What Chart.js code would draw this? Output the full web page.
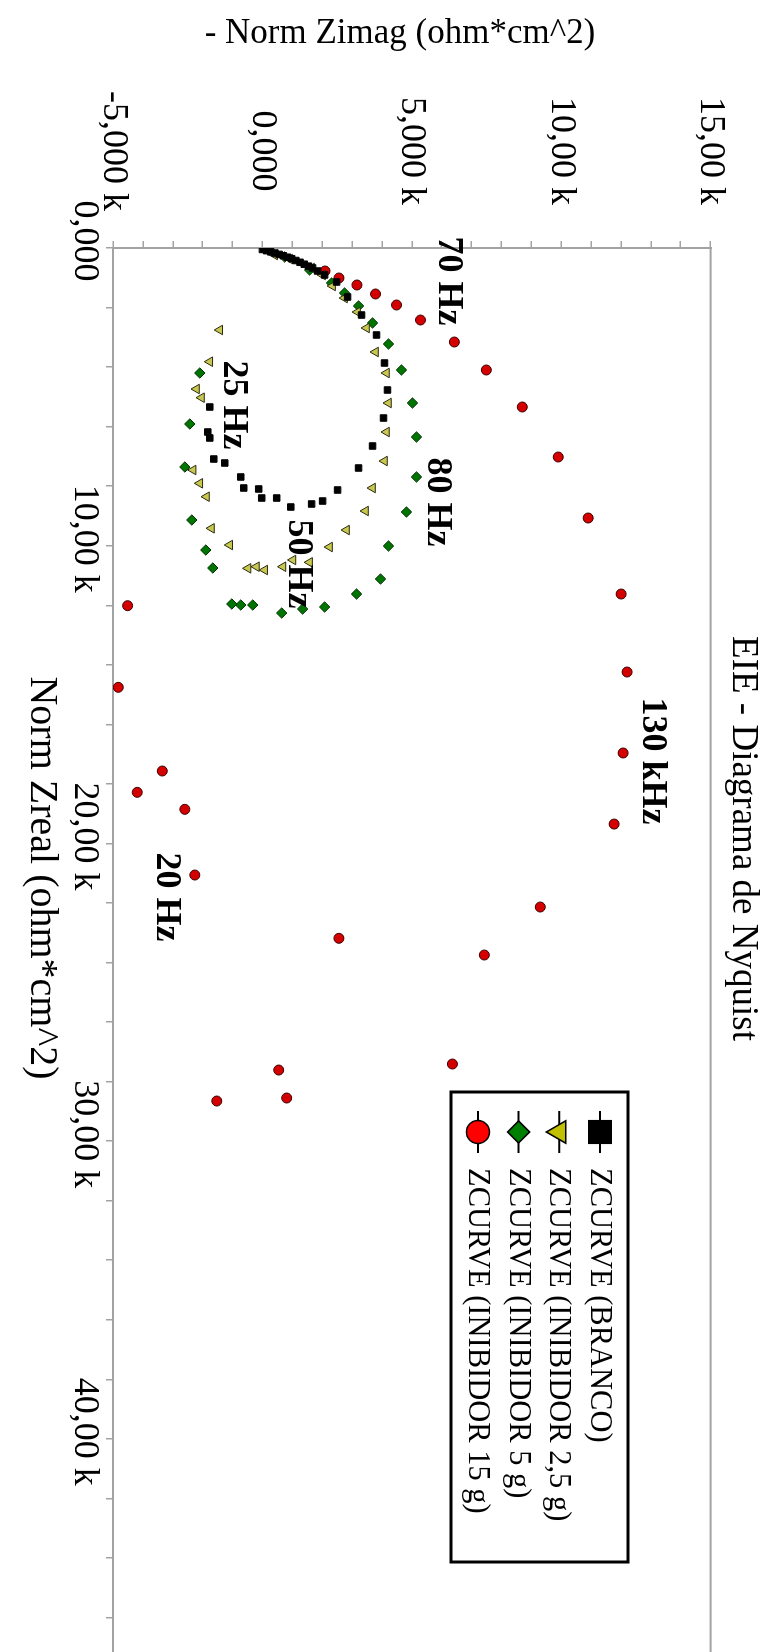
<!DOCTYPE html>
<html>
<head>
<meta charset="utf-8">
<title>EIE - Diagrama de Nyquist</title>
<script src="https://cdn.jsdelivr.net/npm/chart.js@4.4.0/dist/chart.umd.min.js"></script>
<style>
  html, body { margin: 0; padding: 0; background: #fff; width: 767px; height: 1652px; overflow: hidden; }
  /* the plot is laid out landscape and turned a quarter clockwise */
  #turn { position: absolute; left: 0; top: 0; width: 1700px; height: 767px;
          transform-origin: 0 0; transform: translateX(767px) rotate(90deg); }
</style>
</head>
<body>
<div id="turn"><canvas id="nyquist" width="1700" height="767"></canvas></div>
<script>
// Norm Zreal / -Norm Zimag, ohm*cm^2
const brancoZreal = [50, 90, 130, 170, 215, 260, 310, 360, 420, 480, 545, 610, 670, 773, 906, 1142, 1646, 2251, 2922, 3863, 4770, 5711, 6651, 7390, 8129, 8499, 8599, 8700, 8398, 8398, 8095, 8062, 7692, 7222, 7088, 6382, 6181, 5341];
const brancoZimag = [0, 140, 280, 420, 560, 700, 840, 980, 1120, 1260, 1400, 1540, 1680, 1847, 2081, 2483, 2850, 3318, 3819, 4086, 4186, 4053, 3686, 3218, 2516, 2015, 1647, 950, 478, -23, -124, -625, -725, -1260, -1627, -1761, -1828, -1761];

const inib25Zreal = [235, 369, 672, 907, 1276, 1680, 2150, 2687, 3493, 4199, 5207, 6181, 7155, 8062, 8834, 9473, 10044, 10558, 10480, 10705, 10816, 10705, 10760, 9977, 9416, 8354, 7904, 7457, 5028, 4737, 3819, 2754];
const inib25Zimag = [411, 912, 1647, 2015, 2349, 2750, 3184, 3485, 3786, 4153, 4220, 4153, 4086, 3686, 3452, 2816, 2248, 1580, 1023, 688, 77, -200, -481, -1093, -1704, -1871, -2095, -2318, -2038, -2205, -1761, -1427];

const inib5Zreal = [302, 739, 1176, 1512, 1948, 2519, 3225, 4098, 5207, 6349, 7692, 8868, 10010, 11119, 11623, 12059, 12127, 12261, 11992, 11992, 11958, 10749, 10145, 9137, 7356, 5912, 4199];
const inib5Zimag = [745, 1580, 2315, 2750, 3218, 3686, 4220, 4654, 5022, 5156, 5156, 4821, 4220, 3953, 3151, 2082, 1346, 645, -324, -725, -1025, -1660, -1894, -2362, -2596, -2429, -2095];

const inib15Zreal = [773, 1008, 1243, 1545, 1915, 2419, 3158, 4098, 5341, 7021, 9070, 11623, 14243, 16963, 19350, 22137, 23749, 27410, 23188, 27612, 28552, 28653, 21062, 18855, 17568, 18284, 14757, 12015];
const inib15Zimag = [2095, 2562, 3164, 3786, 4488, 5290, 6424, 7494, 8697, 9900, 10902, 12005, 12205, 12072, 11771, 9299, 7427, 6358, 2560, 545, 812, -1527, -2262, -2596, -3351, -4190, -4824, -4511];

const seriesNames = ['ZCURVE (BRANCO)', 'ZCURVE (INIBIDOR 2,5 g)', 'ZCURVE (INIBIDOR 5 g)', 'ZCURVE (INIBIDOR 15 g)'];

const zrealTickValues = [0, 10000, 20000, 30000, 40000];
const zrealTickLabels = ['0,000', '10,00 k', '20,00 k', '30,00 k', '40,00 k'];
const zimagTickValues = [-5000, 0, 5000, 10000, 15000];
const zimagTickLabels = ['-5,000 k', '0,000', '5,000 k', '10,00 k', '15,00 k'];

// frequency notes placed in data space
const noteText = ['70 Hz', '80 Hz', '25 Hz', '50 Hz', '130 kHz', '20 Hz'];
const noteZreal = [1108, 8532, 5274, 10615, 17230, 21800];
const noteZimag = [6224, 5857, -959, 1213, 13040, -3231];

const serif = "'Liberation Serif', 'Times New Roman', serif";
const frameGrey = '#a3a3a3';

function toPoints(re, im) {
    return re.map((x, i) => ({ x: x, y: im[i] }));
}

function tickText(values, labels) {
    return function (v) {
        const i = values.indexOf(v);
        return i >= 0 ? labels[i] : '';
    };
}

// grey box round the plot area (Chart.js only draws left + bottom)
const framePlugin = {
    id: 'frame',
    beforeDatasetsDraw(chart) {
        const { ctx, chartArea: a } = chart;
        ctx.save();
        ctx.strokeStyle = frameGrey;
        ctx.lineWidth = 2;
        ctx.strokeRect(a.left, a.top, a.right - a.left, a.bottom - a.top);
        ctx.restore();
    }
};

// axis captions: set by hand because they are not centred on the axes
const axisCaptions = [
    { text: 'Norm Zreal (ohm*cm^2)', x: 878, y: 725, size: 40, rotate: 0 },
    { text: '- Norm Zimag (ohm*cm^2)', x: 34, y: 367, size: 35, rotate: -Math.PI / 2 }
];
const captionPlugin = {
    id: 'captions',
    afterDraw(chart) {
        const ctx = chart.ctx;
        ctx.save();
        ctx.fillStyle = '#000';
        ctx.textAlign = 'center';
        ctx.textBaseline = 'middle';
        axisCaptions.forEach(c => {
            ctx.save();
            ctx.translate(c.x, c.y);
            ctx.rotate(c.rotate);
            ctx.font = c.size + 'px ' + serif;
            ctx.fillText(c.text, 0, 0);
            ctx.restore();
        });
        ctx.restore();
    }
};

// bold frequency labels
const notesPlugin = {
    id: 'notes',
    afterDatasetsDraw(chart) {
        const { ctx, scales } = chart;
        ctx.save();
        ctx.font = 'bold 36px ' + serif;
        ctx.fillStyle = '#000';
        ctx.textAlign = 'center';
        ctx.textBaseline = 'middle';
        noteText.forEach((t, i) => {
            ctx.fillText(t, scales.x.getPixelForValue(noteZreal[i]), scales.y.getPixelForValue(noteZimag[i]));
        });
        ctx.restore();
    }
};

// boxed legend sitting inside the plot
const legendBox = { left: 1092, top: 139, width: 470, height: 177, firstRow: 167, rowGap: 40.7, markX: 1132, textX: 1168 };
const legendMarks = [
    { pointStyle: 'rect', radius: 16, rotation: 0, fill: '#000000' },
    { pointStyle: 'triangle', radius: 13, rotation: 180, fill: '#c0c000' },
    { pointStyle: 'rectRot', radius: 11, rotation: 0, fill: '#008000' },
    { pointStyle: 'circle', radius: 11.5, rotation: 0, fill: '#ff0000' }
];
const boxLegendPlugin = {
    id: 'boxLegend',
    afterDatasetsDraw(chart) {
        const ctx = chart.ctx;
        const b = legendBox;
        ctx.save();
        ctx.fillStyle = '#fff';
        ctx.fillRect(b.left, b.top, b.width, b.height);
        ctx.strokeStyle = '#000';
        ctx.lineWidth = 3;
        ctx.strokeRect(b.left, b.top, b.width, b.height);
        chart.data.datasets.forEach((ds, i) => {
            const y = b.firstRow + i * b.rowGap;
            ctx.strokeStyle = '#000';
            ctx.lineWidth = 2;
            ctx.beginPath();
            ctx.moveTo(b.markX - 21, y);
            ctx.lineTo(b.markX + 21, y);
            ctx.stroke();
            const m = legendMarks[i];
            ctx.fillStyle = m.fill;
            ctx.strokeStyle = '#000';
            ctx.lineWidth = 1.5;
            Chart.helpers.drawPoint(ctx, { pointStyle: m.pointStyle, radius: m.radius, rotation: m.rotation, borderWidth: 1.5 }, b.markX, y);
            ctx.fillStyle = '#000';
            ctx.font = '30.5px ' + serif;
            ctx.textAlign = 'left';
            ctx.textBaseline = 'middle';
            ctx.fillText(ds.label, b.textX, y + 1);
        });
        ctx.restore();
    }
};

const ctx = document.getElementById('nyquist').getContext('2d');
new Chart(ctx, {
    type: 'scatter',
    data: {
        datasets: [
            { label: seriesNames[0], data: toPoints(brancoZreal, brancoZimag), pointStyle: 'rect', pointRadius: 4.6,
              backgroundColor: '#000', borderColor: '#000', borderWidth: 1 },
            { label: seriesNames[1], data: toPoints(inib25Zreal, inib25Zimag), pointStyle: 'triangle', pointRadius: 5.5, rotation: 180,
              backgroundColor: '#c8c850', borderColor: '#2a2a10', borderWidth: 1 },
            { label: seriesNames[2], data: toPoints(inib5Zreal, inib5Zimag), pointStyle: 'rectRot', pointRadius: 5.2,
              backgroundColor: '#007400', borderColor: '#033003', borderWidth: 1 },
            { label: seriesNames[3], data: toPoints(inib15Zreal, inib15Zimag), pointStyle: 'circle', pointRadius: 5,
              backgroundColor: '#d40000', borderColor: '#3a0000', borderWidth: 1 }
        ]
    },
    options: {
        responsive: false,
        animation: false,
        events: [],
        layout: { padding: { right: 23 } },
        plugins: {
            legend: { display: false },
            tooltip: { enabled: false },
            title: {
                display: true,
                text: 'EIE - Diagrama de Nyquist',
                color: '#000',
                font: { family: serif, size: 37, weight: 'normal' },
                padding: { top: 2, bottom: 10 }
            }
        },
        scales: {
            x: {
                type: 'linear',
                min: 0,
                max: 48000,
                afterFit(s) { s.height = 113; },
                ticks: {
                    stepSize: 2000,
                    autoSkip: false,
                    maxRotation: 0,
                    padding: 0,
                    labelOffset: -7,
                    color: '#000',
                    font: { family: serif, size: 36 },
                    callback: tickText(zrealTickValues, zrealTickLabels)
                },
                grid: { drawOnChartArea: false, tickLength: 7, color: frameGrey, lineWidth: 1.5 },
                border: { color: frameGrey, width: 2 }
            },
            y: {
                type: 'linear',
                min: -5000,
                max: 15000,
                afterFit(s) { s.width = 248; },
                ticks: {
                    stepSize: 1000,
                    autoSkip: false,
                    crossAlign: 'center',
                    padding: 30,
                    color: '#000',
                    font: { family: serif, size: 36 },
                    callback: tickText(zimagTickValues, zimagTickLabels)
                },
                grid: { drawOnChartArea: false, tickLength: 7, color: frameGrey, lineWidth: 1.5 },
                border: { color: frameGrey, width: 2 }
            }
        }
    },
    plugins: [framePlugin, notesPlugin, boxLegendPlugin, captionPlugin]
});
</script>
</body>
</html>
